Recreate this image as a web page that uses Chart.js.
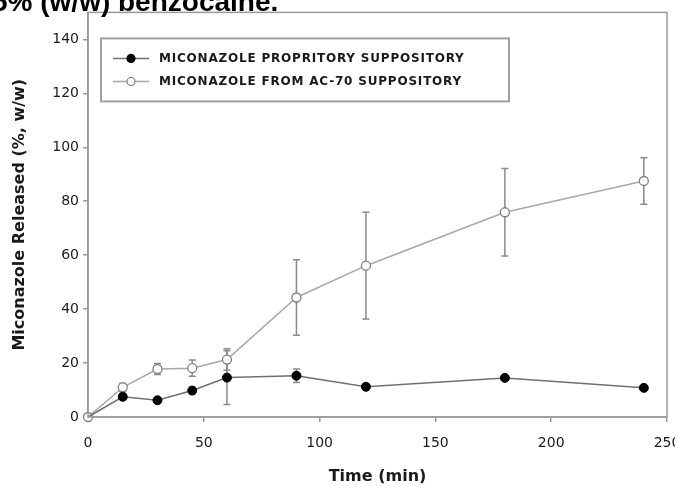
<!DOCTYPE html>
<html>
<head>
<meta charset="utf-8">
<script src="https://cdn.jsdelivr.net/npm/chart.js@4"></script>
<style>
  html, body { margin: 0; padding: 0; background: #fff; overflow: hidden; }
  #wrap { position: relative; width: 700px; height: 487px; }
  #caption {
    position: absolute; left: -8px; top: -12px;
    font: bold 28px "Liberation Sans", Arial, sans-serif;
    line-height: 28px; color: #000; white-space: nowrap;
  }
</style>
</head>
<body>
<div id="wrap">
  <canvas id="chart" width="700" height="487"></canvas>
  <div id="caption">5% (w/w) benzocaine.</div>
</div>
<script>
// time points (min)
const times = [0, 15, 30, 45, 60, 90, 120, 180, 240];
// proprietary suppository, mean and sd
const proprietary = [0, 7.5, 6.2, 9.8, 14.6, 15.3, 11.2, 14.5, 10.8];
const proprietaryErr = [0, 1, 0.8, 1.2, 10, 2.5, 0.8, 1, 0.8];
// AC-70 suppository, mean and sd
const ac70 = [0, 11, 17.8, 18.1, 21.3, 44.3, 56.1, 75.9, 87.5];
const ac70Err = [0, 1.5, 2, 3, 4, 14, 19.8, 16.2, 8.6];

const xTicks = [0, 50, 100, 150, 200, 250];
const seriesNames = [
  "MICONAZOLE PROPRITORY SUPPOSITORY",
  "MICONAZOLE FROM AC-70 SUPPOSITORY",
];

const AXIS_GREY = "#9a9a9a";
const TEXT = "#1a1a1a";

function toPoints(ys) {
  return times.map((t, i) => ({ x: t, y: ys[i] }));
}

// vertical error bars with caps, drawn under the points
const errorBars = {
  id: "errorBars",
  beforeDatasetsDraw(chart) {
    const ctx = chart.ctx;
    const errs = [proprietaryErr, ac70Err];
    const xs = chart.scales.x;
    const ys = chart.scales.y;
    ctx.save();
    ctx.strokeStyle = "#8a8a8a";
    ctx.lineWidth = 1.5;
    chart.data.datasets.forEach((ds, di) => {
      ds.data.forEach((p, i) => {
        const e = errs[di][i];
        if (!e) return;
        const px = xs.getPixelForValue(p.x);
        const top = ys.getPixelForValue(p.y + e);
        const bot = ys.getPixelForValue(p.y - e);
        ctx.beginPath();
        ctx.moveTo(px, top);
        ctx.lineTo(px, bot);
        ctx.moveTo(px - 3.5, top);
        ctx.lineTo(px + 3.5, top);
        ctx.moveTo(px - 3.5, bot);
        ctx.lineTo(px + 3.5, bot);
        ctx.stroke();
      });
    });
    ctx.restore();
  },
};

// frame around the plot + boxed legend in the upper left
const frameAndLegend = {
  id: "frameAndLegend",
  afterDraw(chart) {
    const { ctx, chartArea: a } = chart;
    ctx.save();
    ctx.strokeStyle = AXIS_GREY;
    ctx.lineWidth = 1.5;
    ctx.strokeRect(a.left, a.top, a.right - a.left, a.bottom - a.top);

    const bx = a.left + 13, by = a.top + 26, bw = 408, bh = 63;
    ctx.lineWidth = 2;
    ctx.strokeStyle = "#a0a0a0";
    ctx.strokeRect(bx, by, bw, bh);

    ctx.font = 'bold 12px "DejaVu Sans", sans-serif';
    ctx.letterSpacing = "0.8px";
    ctx.textBaseline = "middle";
    ctx.fillStyle = TEXT;
    chart.data.datasets.forEach((ds, i) => {
      const rowY = by + 20 + i * 23;
      ctx.strokeStyle = ds.borderColor;
      ctx.lineWidth = 1.5;
      ctx.beginPath();
      ctx.moveTo(bx + 12, rowY);
      ctx.lineTo(bx + 48, rowY);
      ctx.stroke();
      ctx.beginPath();
      ctx.arc(bx + 30, rowY, 4, 0, Math.PI * 2);
      ctx.fillStyle = ds.pointBackgroundColor;
      ctx.fill();
      ctx.strokeStyle = ds.pointBorderColor;
      ctx.lineWidth = 1.2;
      ctx.stroke();
      ctx.fillStyle = TEXT;
      ctx.fillText(seriesNames[i], bx + 58, rowY);
    });
    ctx.restore();
  },
};

new Chart(document.getElementById("chart"), {
  type: "line",
  data: {
    datasets: [
      {
        label: seriesNames[0],
        data: toPoints(proprietary),
        borderColor: "#707070",
        borderWidth: 1.5,
        pointBackgroundColor: "#000",
        pointBorderColor: "#000",
        pointRadius: (c) => (c.dataIndex === 0 ? 0 : 4.5),
        pointBorderWidth: 1,
        clip: false,
      },
      {
        label: seriesNames[1],
        data: toPoints(ac70),
        borderColor: "#a8a8a8",
        borderWidth: 1.5,
        pointBackgroundColor: "#fff",
        pointBorderColor: "#808080",
        pointRadius: 4.5,
        pointBorderWidth: 1.3,
        clip: false,
      },
    ],
  },
  options: {
    responsive: false,
    animation: false,
    events: [],
    layout: { padding: { left: 0, top: 12, right: 33, bottom: 0 } },
    plugins: { legend: { display: false }, tooltip: { enabled: false } },
    scales: {
      x: {
        type: "linear",
        min: 0,
        max: 250,
        afterFit: (s) => { s.height = 70; },
        afterBuildTicks: (s) => { s.ticks = xTicks.map((v) => ({ value: v })); },
        grid: { drawOnChartArea: false, tickLength: 5, color: AXIS_GREY, lineWidth: 1.5 },
        border: { color: AXIS_GREY, width: 1.5 },
        ticks: {
          padding: 13,
          color: TEXT,
          font: { family: '"DejaVu Sans", sans-serif', size: 14 },
        },
        title: {
          display: true,
          text: "Time (min)",
          color: TEXT,
          padding: { top: 0, bottom: 1 },
          font: { family: '"DejaVu Sans", sans-serif', size: 16, weight: "bold" },
        },
      },
      y: {
        min: 0,
        max: 150,
        afterFit: (s) => { s.width = 88; },
        grid: { drawOnChartArea: false, tickLength: 5, color: AXIS_GREY, lineWidth: 1.5 },
        border: { color: AXIS_GREY, width: 1.5 },
        ticks: {
          stepSize: 20,
          includeBounds: false,
          padding: 4,
          color: TEXT,
          font: { family: '"DejaVu Sans", sans-serif', size: 14 },
        },
        title: {
          display: true,
          text: "Miconazole Released (%, w/w)",
          color: TEXT,
          padding: { top: 10, bottom: 0 },
          font: { family: '"DejaVu Sans", sans-serif', size: 16, weight: "bold" },
        },
      },
    },
  },
  plugins: [errorBars, frameAndLegend],
});
</script>
</body>
</html>
